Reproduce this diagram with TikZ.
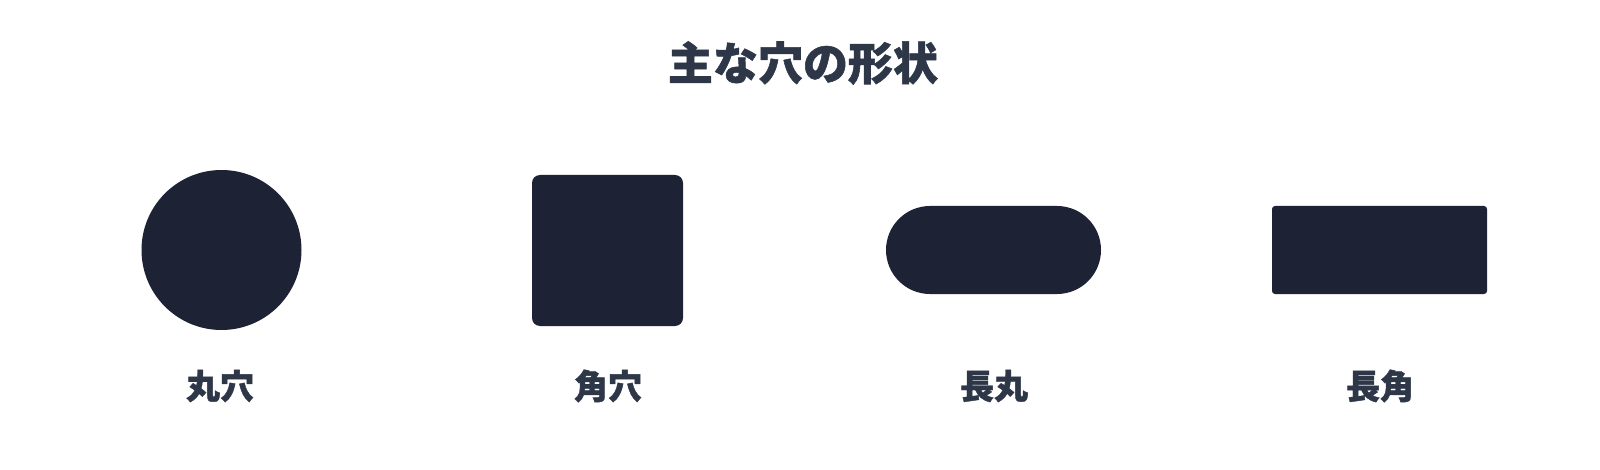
\documentclass[tikz,border=0pt]{standalone}
\usepackage{fontspec}
\newfontfamily\cjk{Noto Sans CJK JP}[BoldFeatures={FakeBold=1.2}]
\definecolor{shapecol}{HTML}{1E2235}
\definecolor{textcol}{HTML}{2D3748}
\begin{document}
\begin{tikzpicture}[x=1pt,y=-1pt,
  hole/.style={fill=shapecol,draw=none},
  lbl/.style={text=textcol,font=\cjk\bfseries\fontsize{34}{34}\selectfont,inner sep=0pt},
  ttl/.style={text=textcol,font=\cjk\bfseries\fontsize{45}{45}\selectfont,inner sep=0pt}]
\useasboundingbox (0,0) rectangle (1600,470);
\node[ttl] (title) at (803,63) {主な穴の形状};
\fill[hole] (221.5,250) circle (80);
\fill[hole,rounded corners=8] (532,175) rectangle (683,326);
\fill[hole,rounded corners=44] (886,206) rectangle (1101,294);
\fill[hole,rounded corners=3] (1272,206) rectangle (1487,294);
\node[lbl] (l1) at (220,386) {丸穴};
\node[lbl] (l2) at (608,386) {角穴};
\node[lbl] (l3) at (994,386) {長丸};
\node[lbl] (l4) at (1380,386) {長角};
\end{tikzpicture}
\end{document}
